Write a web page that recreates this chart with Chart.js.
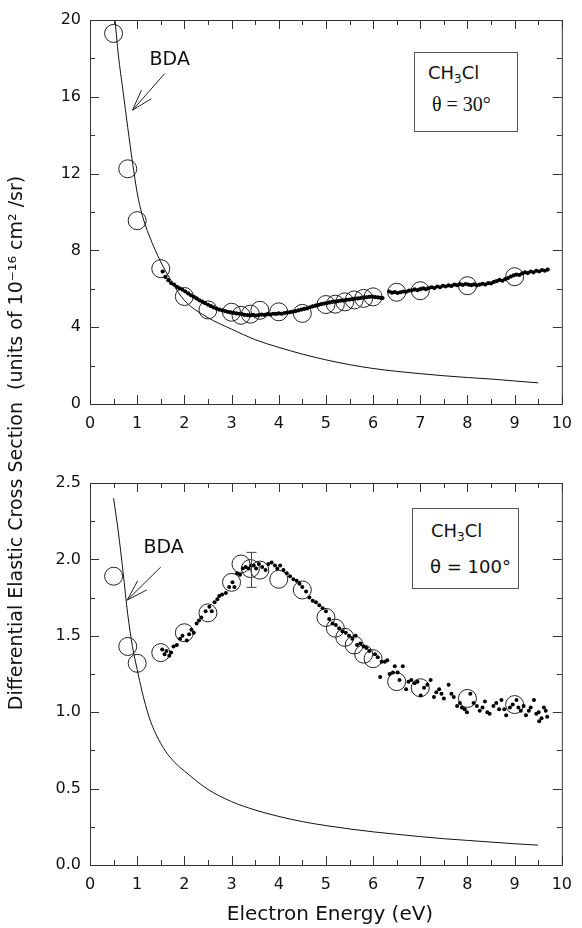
<!DOCTYPE html>
<html>
<head>
<meta charset="utf-8">
<script src="https://cdn.jsdelivr.net/npm/chart.js@4.4.1/dist/chart.umd.min.js"></script>
<style>
  html, body { margin: 0; padding: 0; background: #fff; }
  #wrap { position: relative; width: 582px; height: 928px; font-family: 'DejaVu Sans', sans-serif; color: #111; }
  canvas { position: absolute; left: 0; }
  .ytitle { position: absolute; left: -285px; top: 432px; width: 600px; height: 22px; line-height: 22px;
            text-align: center; font-size: 19px; transform: rotate(-90deg); white-space: nowrap; }
  .xtitle { position: absolute; left: 130px; top: 902px; width: 400px; text-align: center; font-size: 20px; line-height: 22px; }
  .box { position: absolute; border: 1px solid #555; background: #fff; }
  .box span { position: absolute; white-space: nowrap; }
  .box sub { font-size: 12px; vertical-align: -4px; }
</style>
</head>
<body>
<div id="wrap">
  <canvas id="topChart" width="582" height="440" style="top:0"></canvas>
  <canvas id="bottomChart" width="582" height="440" style="top:463px"></canvas>
  <div class="ytitle">Differential Elastic Cross Section&nbsp; (units of 10⁻¹⁶ cm² /sr)</div>
  <div class="xtitle">Electron Energy (eV)</div>
  <div class="box" style="left:414px;top:52px;width:102px;height:78px">
    <span style="left:13px;top:9px;font-size:18px">CH<sub>3</sub>Cl</span>
    <span style="left:17px;top:40px;font-size:20px;font-family:'Liberation Serif',serif">θ = 30°</span>
  </div>
  <div class="box" style="left:412px;top:508px;width:105px;height:79px">
    <span style="left:18px;top:11px;font-size:18px">CH<sub>3</sub>Cl</span>
    <span style="left:17px;top:47px;font-size:18px">θ = 100°</span>
  </div>
</div>
<script>
// axis ticks
const xMajorTicks = [0, 1, 2, 3, 4, 5, 6, 7, 8, 9, 10];
const xMinorTicks = [0.5, 1.5, 2.5, 3.5, 4.5, 5.5, 6.5, 7.5, 8.5, 9.5];
const topYMajor = [0, 4, 8, 12, 16, 20];
const topYMinor = [2, 6, 10, 14, 18];
const bottomYMajor = [0, 0.5, 1.0, 1.5, 2.0, 2.5];
const bottomYMinor = [0.25, 0.75, 1.25, 1.75, 2.25];

// theta = 30 deg : BDA curve
const topBdaE = [0.53, 0.6, 0.7, 0.8, 0.9, 1.0, 1.1, 1.25, 1.5, 1.75, 2.0, 2.5, 3.0, 3.5, 4.0, 4.5, 5.0, 5.5, 6.0, 6.5, 7.0, 7.5, 8.0, 8.5, 9.0, 9.5];
const topBdaV = [20.0, 18.2, 16.3, 14.4, 12.6, 11.0, 9.9, 8.8, 7.4, 6.3, 5.4, 4.5, 3.9, 3.35, 2.95, 2.6, 2.3, 2.05, 1.85, 1.7, 1.58, 1.47, 1.38, 1.3, 1.2, 1.1];

// theta = 30 deg : open circles
const topCircE = [0.5, 0.8, 1.0, 1.5, 2.0, 2.5, 3.0, 3.2, 3.4, 3.6, 4.0, 4.5, 5.0, 5.2, 5.4, 5.6, 5.8, 6.0, 6.5, 7.0, 8.0, 9.0];
const topCircV = [19.3, 12.25, 9.55, 7.05, 5.6, 4.9, 4.78, 4.62, 4.68, 4.88, 4.8, 4.72, 5.18, 5.2, 5.32, 5.42, 5.5, 5.58, 5.82, 5.9, 6.16, 6.63];

// theta = 30 deg : energy scan (dots)
const topScanE = [1.54, 1.60, 1.66, 1.72, 1.78, 1.84, 1.90, 1.96, 2.02, 2.08, 2.14, 2.20, 2.26, 2.32, 2.38, 2.44, 2.50, 2.56, 2.62, 2.68,
  2.74, 2.80, 2.86, 2.92, 2.98, 3.04, 3.10, 3.16, 3.22, 3.28, 3.34, 3.40, 3.46, 3.52, 3.58, 3.64, 3.70, 3.76, 3.82, 3.88,
  3.94, 4.00, 4.06, 4.12, 4.18, 4.24, 4.30, 4.36, 4.42, 4.48, 4.54, 4.60, 4.66, 4.72, 4.78, 4.84, 4.90, 4.96, 5.02, 5.08,
  5.14, 5.20, 5.26, 5.32, 5.38, 5.44, 5.50, 5.56, 5.62, 5.68, 5.74, 5.80, 5.86, 5.92, 5.98, 6.04, 6.10, 6.16, 6.20,
  6.34, 6.40, 6.46, 6.52, 6.58, 6.64, 6.70, 6.76, 6.82, 6.88, 6.94, 7.00, 7.06, 7.12, 7.18, 7.24, 7.30, 7.36, 7.42, 7.48,
  7.54, 7.60, 7.66, 7.72, 7.78, 7.84, 7.90, 7.96, 8.02, 8.08, 8.14, 8.20, 8.26, 8.32, 8.38, 8.44, 8.50, 8.56, 8.62, 8.68,
  8.74, 8.80, 8.86, 8.92, 8.98, 9.04, 9.10, 9.16, 9.22, 9.28, 9.34, 9.40, 9.46, 9.52, 9.58, 9.64, 9.70];
const topScanV = [6.90, 6.62, 6.45, 6.30, 6.22, 6.10, 6.02, 5.95, 5.86, 5.76, 5.66, 5.58, 5.50, 5.40, 5.33, 5.25, 5.17, 5.10, 5.03, 4.97,
  4.92, 4.88, 4.84, 4.80, 4.77, 4.75, 4.72, 4.70, 4.68, 4.64, 4.63, 4.62, 4.64, 4.61, 4.63, 4.66, 4.64, 4.68, 4.66, 4.70,
  4.69, 4.72, 4.70, 4.74, 4.76, 4.78, 4.81, 4.84, 4.88, 4.92, 4.95, 4.98, 5.04, 5.08, 5.12, 5.16, 5.20, 5.23, 5.25, 5.29,
  5.32, 5.33, 5.36, 5.38, 5.40, 5.43, 5.44, 5.46, 5.49, 5.50, 5.52, 5.55, 5.56, 5.58, 5.59, 5.57, 5.55, 5.53, 5.52,
  5.86, 5.80, 5.83, 5.78, 5.82, 5.86, 5.84, 5.90, 5.92, 5.97, 5.93, 5.98, 6.02, 5.98, 6.04, 6.08, 6.04, 6.12, 6.08, 6.16,
  6.12, 6.18, 6.14, 6.22, 6.19, 6.24, 6.20, 6.25, 6.22, 6.19, 6.23, 6.18, 6.22, 6.26, 6.22, 6.30, 6.28, 6.36, 6.40, 6.46,
  6.42, 6.50, 6.56, 6.64, 6.70, 6.74, 6.72, 6.80, 6.86, 6.82, 6.90, 6.86, 6.94, 6.90, 6.98, 6.94, 7.00];

// theta = 100 deg : BDA curve
const bottomBdaE = [0.5, 0.6, 0.7, 0.8, 0.9, 1.0, 1.1, 1.25, 1.4, 1.6, 1.8, 2.0, 2.5, 3.0, 3.5, 4.0, 4.5, 5.0, 5.5, 6.0, 6.5, 7.0, 7.5, 8.0, 8.5, 9.0, 9.5];
const bottomBdaV = [2.40, 2.18, 1.92, 1.64, 1.43, 1.28, 1.14, 0.97, 0.855, 0.745, 0.67, 0.615, 0.495, 0.415, 0.36, 0.318, 0.284, 0.258, 0.236, 0.217, 0.201, 0.186, 0.172, 0.161, 0.15, 0.139, 0.13];

// theta = 100 deg : open circles
const bottomCircE = [0.5, 0.8, 1.0, 1.5, 2.0, 2.5, 3.0, 3.2, 3.4, 3.6, 4.0, 4.5, 5.0, 5.2, 5.4, 5.6, 5.8, 6.0, 6.5, 7.0, 8.0, 9.0];
const bottomCircV = [1.89, 1.43, 1.32, 1.39, 1.52, 1.65, 1.85, 1.97, 1.94, 1.93, 1.87, 1.80, 1.62, 1.55, 1.49, 1.44, 1.38, 1.35, 1.20, 1.16, 1.09, 1.05];

// theta = 100 deg : energy scan (dots)
const bottomScanE = [1.53, 1.58, 1.62, 1.68, 1.72, 1.77, 1.84, 1.91, 1.96, 2.05, 2.10, 2.15, 2.20, 2.26, 2.31, 2.36, 2.45, 2.53, 2.58, 2.64,
  2.70, 2.74, 2.80, 2.88, 2.95, 3.02, 3.06, 3.12, 3.18, 3.24, 3.30, 3.36, 3.42, 3.47, 3.52, 3.58, 3.65, 3.72, 3.78, 3.85,
  3.92, 3.97, 4.03, 4.10, 4.17, 4.24, 4.31, 4.38, 4.44, 4.50, 4.58, 4.65, 4.72, 4.79, 4.86, 4.93, 5.00, 5.07, 5.14, 5.21,
  5.28, 5.35, 5.42, 5.49, 5.56, 5.63, 5.66, 5.73, 5.80, 5.86, 5.92, 6.04, 6.10, 6.15, 6.18, 6.25, 6.30, 6.35, 6.42, 6.46,
  6.52, 6.56, 6.63, 6.70, 6.75, 6.81, 6.88, 6.94, 7.01, 7.08, 7.15, 7.22, 7.29, 7.34, 7.40, 7.45, 7.50, 7.60, 7.66, 7.71,
  7.78, 7.84, 7.88, 7.94, 7.99, 8.06, 8.13, 8.20, 8.26, 8.32, 8.37, 8.42, 8.47, 8.55, 8.61, 8.67, 8.72, 8.78, 8.82, 8.90,
  8.96, 9.04, 9.08, 9.13, 9.19, 9.24, 9.30, 9.34, 9.41, 9.46, 9.51, 9.52, 9.57, 9.62, 9.66, 9.69];
const bottomScanV = [1.41, 1.38, 1.40, 1.37, 1.39, 1.43, 1.44, 1.48, 1.50, 1.47, 1.51, 1.54, 1.52, 1.58, 1.60, 1.62, 1.66, 1.69, 1.66, 1.72,
  1.74, 1.76, 1.77, 1.78, 1.82, 1.85, 1.82, 1.91, 1.90, 1.94, 1.95, 1.94, 1.96, 1.96, 1.94, 1.97, 1.95, 1.93, 1.97, 1.98,
  1.96, 1.94, 1.96, 1.93, 1.91, 1.89, 1.87, 1.86, 1.84, 1.82, 1.79, 1.75, 1.73, 1.72, 1.70, 1.68, 1.66, 1.61, 1.58, 1.57,
  1.55, 1.53, 1.52, 1.50, 1.48, 1.50, 1.44, 1.45, 1.43, 1.42, 1.40, 1.38, 1.36, 1.23, 1.33, 1.33, 1.34, 1.25, 1.26, 1.30,
  1.26, 1.21, 1.30, 1.15, 1.20, 1.21, 1.19, 1.20, 1.11, 1.16, 1.18, 1.21, 1.10, 1.13, 1.15, 1.12, 1.09, 1.18, 1.12, 1.10,
  1.04, 1.06, 1.03, 1.02, 1.00, 1.12, 1.06, 1.04, 1.01, 1.03, 1.07, 1.00, 0.99, 1.04, 1.06, 1.02, 1.08, 1.02, 0.98, 1.03,
  1.05, 1.08, 1.03, 1.01, 1.04, 0.98, 1.01, 1.03, 1.08, 0.99, 1.00, 0.94, 0.96, 1.03, 1.01, 0.97];

// error bar on the 100 deg point
const errE = [3.42];
const errLow = [1.817];
const errHigh = [2.046];

const pts = (xs, ys) => xs.map((x, i) => ({ x: x, y: ys[i] }));

Chart.defaults.font.family = "'DejaVu Sans', sans-serif";
Chart.defaults.font.size = 16;
Chart.defaults.color = '#111';

// frame, inward ticks, BDA arrow and error bar
const framePlugin = {
    id: 'frame',
    afterDatasetsDraw(chart, args, opts) {
        const { ctx, chartArea: a, scales: { x, y } } = chart;
        ctx.save();
        ctx.strokeStyle = '#333';
        ctx.lineWidth = 1;
        ctx.strokeRect(a.left + 0.5, a.top + 0.5, a.right - a.left, a.bottom - a.top);

        const vTick = (v, len) => {
            const px = Math.round(x.getPixelForValue(v)) + 0.5;
            ctx.beginPath();
            ctx.moveTo(px, a.bottom); ctx.lineTo(px, a.bottom - len);
            ctx.moveTo(px, a.top); ctx.lineTo(px, a.top + len);
            ctx.stroke();
        };
        const hTick = (v, len) => {
            const py = Math.round(y.getPixelForValue(v)) + 0.5;
            ctx.beginPath();
            ctx.moveTo(a.left, py); ctx.lineTo(a.left + len, py);
            ctx.moveTo(a.right, py); ctx.lineTo(a.right - len, py);
            ctx.stroke();
        };
        xMajorTicks.forEach(v => vTick(v, 9));
        xMinorTicks.forEach(v => vTick(v, 5));
        opts.yMajor.forEach(v => hTick(v, 9));
        opts.yMinor.forEach(v => hTick(v, 5));

        // BDA label with arrow
        const b = opts.bda;
        ctx.fillStyle = '#111';
        ctx.font = "19px 'DejaVu Sans', sans-serif";
        ctx.textAlign = 'center';
        ctx.textBaseline = 'middle';
        ctx.fillText('BDA', x.getPixelForValue(b.text[0]), y.getPixelForValue(b.text[1]));
        const tx = x.getPixelForValue(b.tail[0]), ty = y.getPixelForValue(b.tail[1]);
        const hx = x.getPixelForValue(b.tip[0]), hy = y.getPixelForValue(b.tip[1]);
        const ang = Math.atan2(ty - hy, tx - hx);
        ctx.strokeStyle = '#222';
        ctx.beginPath();
        ctx.moveTo(tx, ty); ctx.lineTo(hx, hy);
        [-0.3, 0.3].forEach(d => {
            ctx.moveTo(hx, hy);
            ctx.lineTo(hx + 22 * Math.cos(ang + d), hy + 22 * Math.sin(ang + d));
        });
        ctx.stroke();

        // error bar
        if (opts.err) {
            ctx.strokeStyle = '#444';
            errE.forEach((e, i) => {
                const px = Math.round(x.getPixelForValue(e)) + 0.5;
                const y1 = y.getPixelForValue(errLow[i]), y2 = y.getPixelForValue(errHigh[i]);
                ctx.beginPath();
                ctx.moveTo(px, y1); ctx.lineTo(px, y2);
                ctx.moveTo(px - 5, y1); ctx.lineTo(px + 5, y1);
                ctx.moveTo(px - 5, y2); ctx.lineTo(px + 5, y2);
                ctx.stroke();
            });
        }
        ctx.restore();
    }
};

function makePanel(id, bda, circles, scan, yMax, yStep, yMajor, yMinor, decimals, xHeight, bdaNote, showErr, dotRadius) {
    return new Chart(document.getElementById(id), {
        type: 'scatter',
        data: {
            datasets: [
                { data: bda, showLine: true, borderColor: '#111', borderWidth: 1, pointRadius: 0,
                  cubicInterpolationMode: 'monotone', fill: false },
                { data: scan, pointRadius: dotRadius, backgroundColor: '#000', borderWidth: 0 },
                { data: circles, pointRadius: 9, borderColor: '#222', borderWidth: 1, backgroundColor: 'rgba(0,0,0,0)' }
            ]
        },
        options: {
            responsive: false,
            animation: false,
            layout: { padding: { top: 20, right: 12, left: 0, bottom: 0 } },
            plugins: {
                legend: { display: false },
                tooltip: { enabled: false },
                frame: { yMajor: yMajor, yMinor: yMinor, bda: bdaNote, err: showErr }
            },
            scales: {
                x: {
                    type: 'linear', min: 0, max: 10,
                    grid: { display: false, drawTicks: false },
                    border: { display: false },
                    ticks: { stepSize: 1, padding: 10, color: '#111' },
                    afterFit: s => { s.height = xHeight; }
                },
                y: {
                    type: 'linear', min: 0, max: yMax,
                    grid: { display: false, drawTicks: false },
                    border: { display: false },
                    ticks: { stepSize: yStep, padding: 9, color: '#111', callback: v => v.toFixed(decimals) },
                    afterFit: s => { s.width = 90; }
                }
            }
        },
        plugins: [framePlugin]
    });
}

makePanel('topChart', pts(topBdaE, topBdaV), pts(topCircE, topCircV), pts(topScanE, topScanV),
    20, 4, topYMajor, topYMinor, 0, 36,
    { text: [1.69, 17.9], tail: [1.58, 17.2], tip: [0.9, 15.3] }, false, 2.1);

makePanel('bottomChart', pts(bottomBdaE, bottomBdaV), pts(bottomCircE, bottomCircV), pts(bottomScanE, bottomScanV),
    2.5, 0.5, bottomYMajor, bottomYMinor, 1, 38,
    { text: [1.56, 2.075], tail: [1.5, 1.95], tip: [0.79, 1.734] }, true, 2);
</script>
</body>
</html>
